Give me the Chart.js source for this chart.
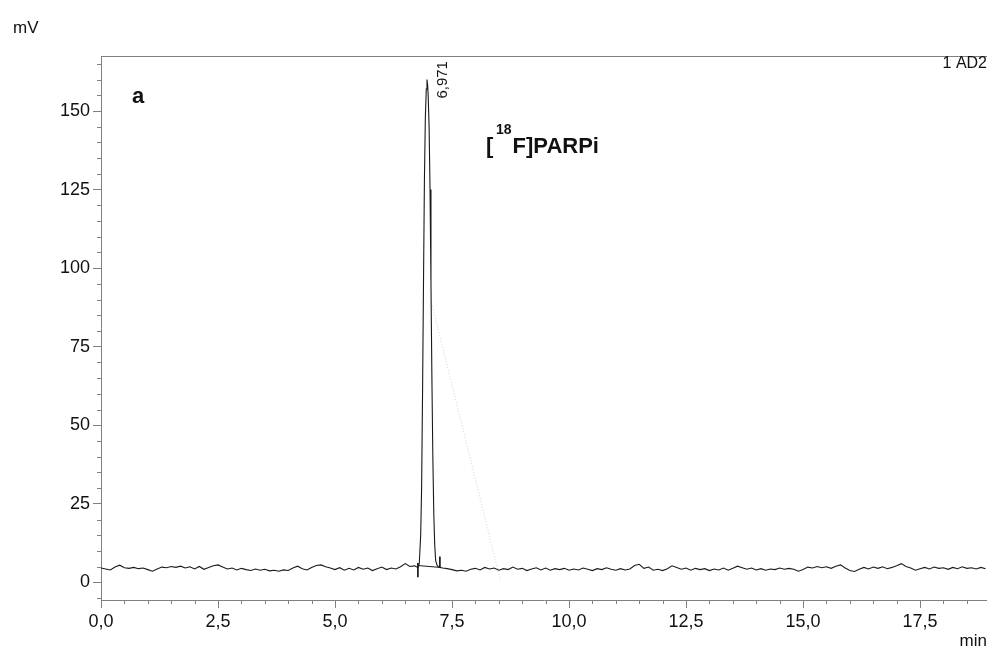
<!DOCTYPE html>
<html>
<head>
<meta charset="utf-8">
<script src="https://cdn.jsdelivr.net/npm/chart.js@4.4.0/dist/chart.umd.min.js"></script>
<style>
html,body{margin:0;padding:0;background:#fff;}
canvas{display:block;}
</style>
</head>
<body>
<canvas id="c" width="987" height="648"></canvas>
<script>
// ---------- DATA ----------
// baseline before the peak: 0.0 .. 6.7 min, 0.1 min step
const baseAStart = 0.0;
const baseAValues = [4.6,4.3,4.0,4.9,5.5,4.7,4.5,4.8,4.4,4.6,
  4.1,3.6,4.3,4.9,4.7,5.1,4.8,5.2,4.6,5.0,
  4.3,5.1,4.2,4.8,5.3,5.6,4.9,4.3,4.6,4.0,
  4.5,4.1,3.8,4.3,3.9,4.2,3.7,3.9,3.6,4.0,
  3.8,4.6,5.2,4.4,4.0,4.8,5.4,5.6,5.0,4.6,
  4.1,4.7,3.9,4.5,4.0,4.8,4.2,4.6,3.8,4.4,
  4.9,4.1,4.6,4.3,5.0,6.0,5.1,5.3];
// peak region
const peakTimes = [6.74,6.77,6.80,6.83,6.85,6.87,6.89,6.91,6.93,6.95,6.965,6.98,6.99,7.01,7.03,7.05,7.07,7.09,7.11,7.13,7.15,7.18,7.21,7.24];
const peakValues = [5.0,4.8,6.0,15,30,60,95,128,148,157,160,158,155,145,125,95,65,40,22,12,7,5.5,5.0,4.8];
// baseline after the peak: 7.3 .. 18.9 min, 0.1 min step
const baseBStart = 7.3;
const baseBValues = [4.6,4.4,4.1,3.7,3.9,3.6,4.2,4.5,4.0,4.8,
  4.3,4.6,3.9,4.4,4.1,4.9,4.2,4.5,3.8,4.3,
  4.7,4.0,4.6,3.9,4.4,4.1,4.5,3.9,4.3,4.0,
  4.6,4.2,3.8,4.4,4.1,4.7,4.2,3.9,4.4,4.0,
  4.3,5.4,5.8,4.5,4.9,3.9,4.2,3.8,4.4,5.3,
  4.8,4.2,4.6,3.9,4.5,4.1,4.4,3.8,4.3,4.0,
  4.6,3.9,4.5,5.2,4.7,4.2,4.6,4.0,4.4,3.9,
  4.3,4.1,4.6,4.2,4.5,4.2,3.6,4.1,4.9,4.6,
  5.1,4.7,5.0,4.5,5.2,5.6,4.6,3.8,3.5,4.2,
  4.8,4.3,4.9,4.5,5.0,4.4,4.8,5.3,6.0,5.1,
  4.6,3.9,4.4,4.8,4.3,4.9,4.5,4.7,4.2,4.8,
  4.4,5.0,4.5,4.7,4.3,4.8,4.4];
const sampleStep = 0.1;
// integration marks: peak start tick, drop baseline, peak end tick
const startTickX = [6.77,6.77];
const startTickY = [6.2,1.7];
const dropLineX = [6.77,7.24];
const dropLineY = [5.4,4.8];
const endTickX = [7.24,7.24];
const endTickY = [8.2,4.9];
// faint dotted tangent line
const slopeX = [7.08,8.53];
const slopeY = [88,0.8];
// axes
const xTickValues = [0,2.5,5,7.5,10,12.5,15,17.5];
const xTickLabels = ["0,0","2,5","5,0","7,5","10,0","12,5","15,0","17,5"];
const yTickValues = [0,25,50,75,100,125,150];
const yTickLabels = ["0","25","50","75","100","125","150"];
const xMin = 0, xMax = 18.93;
const yMin = -5.57, yMax = 167.5;
// texts
const yUnit = "mV";
const xUnit = "min";
const panelLabel = "a";
const compoundIso = "18";
const compoundPre = "[";
const compoundPost = "F]PARPi";
const peakLabel = "6,971";
const peakLabelTime = 6.971;
const peakLabelValue = 160;
const channelLabel = "1 AD2";

// ---------- BUILD ----------
const FONT = '"Liberation Sans", Arial, Helvetica, sans-serif';
const AXIS = '#808080';
const INK = '#1a1a1a';
const traceData = [];
baseAValues.forEach((v,i)=>traceData.push({x:+(baseAStart+i*sampleStep).toFixed(2), y:v}));
peakTimes.forEach((t,i)=>traceData.push({x:t, y:peakValues[i]}));
baseBValues.forEach((v,i)=>traceData.push({x:+(baseBStart+i*sampleStep).toFixed(2), y:v}));
const pts = (xs,ys)=>xs.map((x,i)=>({x:x,y:ys[i]}));
const segStyle = {borderColor:INK, borderWidth:1, pointRadius:0, fill:false};

const decor = {
  id:'decor',
  afterDraw(chart){
    const {ctx, chartArea:a, scales:{x,y}} = chart;
    ctx.save();
    ctx.strokeStyle = AXIS; ctx.lineWidth = 1;
    ctx.beginPath();
    ctx.moveTo(a.left, a.top+0.5); ctx.lineTo(a.right, a.top+0.5);
    for (let v=-5; v<=yMax; v+=5){
      if (v%25===0) continue;
      const py = Math.round(y.getPixelForValue(v))+0.5;
      ctx.moveTo(a.left-4, py); ctx.lineTo(a.left, py);
    }
    for (let k=1; k*0.5<=xMax; k++){
      if (k%5===0) continue;
      const px = Math.round(x.getPixelForValue(k*0.5))+0.5;
      ctx.moveTo(px, a.bottom); ctx.lineTo(px, a.bottom+4);
    }
    ctx.stroke();
    ctx.fillStyle = '#111';
    ctx.textBaseline = 'alphabetic';
    ctx.font = '17px '+FONT;
    ctx.textAlign = 'left';
    ctx.fillText(yUnit, 13, 33);
    ctx.textAlign = 'right';
    ctx.fillText(xUnit, 987, 646);
    ctx.font = '16px '+FONT;
    ctx.fillText(channelLabel, 987, 68);
    ctx.textAlign = 'left';
    ctx.font = 'bold 22px '+FONT;
    ctx.fillText(panelLabel, 132, 103);
    ctx.fillText(compoundPre, 486, 153);
    ctx.font = 'bold 14px '+FONT;
    ctx.fillText(compoundIso, 496, 134);
    const wIso = ctx.measureText(compoundIso).width;
    ctx.font = 'bold 22px '+FONT;
    ctx.fillText(compoundPost, 496+wIso+1, 153);
    ctx.font = '15px '+FONT;
    const px = x.getPixelForValue(peakLabelTime);
    const py = y.getPixelForValue(peakLabelValue);
    ctx.translate(px+20, py+19);
    ctx.rotate(-Math.PI/2);
    ctx.fillText(peakLabel, 0, 0);
    ctx.restore();
  }
};

new Chart(document.getElementById('c'), {
  type:'line',
  data:{datasets:[
    {data:traceData, borderColor:INK, borderWidth:1.1, pointRadius:0, tension:0, fill:false},
    Object.assign({data:pts(startTickX,startTickY)}, segStyle),
    Object.assign({data:pts(dropLineX,dropLineY)}, segStyle),
    Object.assign({data:pts(endTickX,endTickY)}, segStyle),
    {data:pts(slopeX,slopeY), borderColor:'#d2d2d2', borderWidth:1, borderDash:[1,2], pointRadius:0, fill:false}
  ]},
  options:{
    responsive:false, animation:false, devicePixelRatio:1,
    layout:{padding:{top:56,left:0,right:0,bottom:0}},
    plugins:{legend:{display:false}, tooltip:{enabled:false}},
    scales:{
      x:{type:'linear', min:xMin, max:xMax,
        afterFit(s){ s.height = 48; },
        afterBuildTicks(s){ s.ticks = xTickValues.map(v=>({value:v})); },
        grid:{drawOnChartArea:false, tickLength:8, color:AXIS, tickColor:AXIS},
        border:{color:AXIS, width:1},
        ticks:{autoSkip:false, maxRotation:0, padding:3, color:'#111', font:{family:FONT, size:18},
          callback:(v)=>{const i = xTickValues.indexOf(v); return i>=0 ? xTickLabels[i] : '';}}
      },
      y:{type:'linear', min:yMin, max:yMax,
        afterFit(s){ s.width = 101; },
        afterBuildTicks(s){ s.ticks = yTickValues.map(v=>({value:v})); },
        grid:{drawOnChartArea:false, tickLength:8, color:AXIS, tickColor:AXIS},
        border:{color:AXIS, width:1},
        ticks:{padding:3, color:'#111', font:{family:FONT, size:18},
          callback:(v)=>{const i = yTickValues.indexOf(v); return i>=0 ? yTickLabels[i] : '';}}
      }
    }
  },
  plugins:[decor]
});
</script>
</body>
</html>
